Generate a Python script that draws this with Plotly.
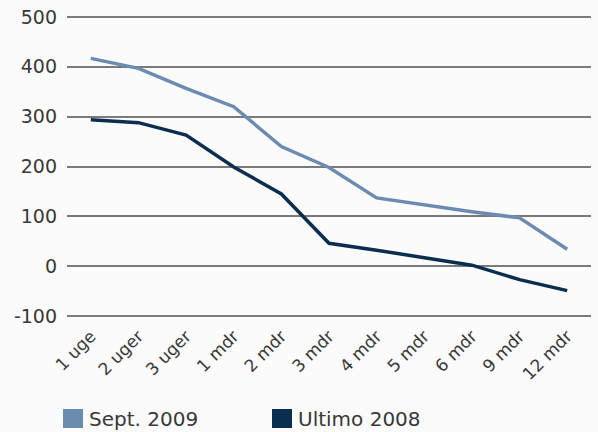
import plotly.graph_objects as go

categories = ["1 uge", "2 uger", "3 uger", "1 mdr", "2 mdr", "3 mdr", "4 mdr", "5 mdr", "6 mdr", "9 mdr", "12 mdr"]
sept_2009 = [417, 397, 357, 320, 240, 198, 137, 123, 109, 97, 34]
ultimo_2008 = [294, 288, 263, 199, 145, 46, 32, 17, 2, -27, -49]
y_ticks = [-100, 0, 100, 200, 300, 400, 500]
y_tick_labels = ["-100", "0", "100", "200", "300", "400", "500"]
series_names = ["Sept. 2009", "Ultimo 2008"]

c_sept = "#6b8bb1"
c_ult = "#0b2e50"
font_family = "DejaVu Sans"
W, H = 598, 432
ml, mr, mt, mb = 67, 7, 15, 114

fig = go.Figure()
fig.add_trace(go.Scatter(x=categories, y=sept_2009, mode="lines", line=dict(color=c_sept, width=3.5),
                         showlegend=False, name=series_names[0]))
fig.add_trace(go.Scatter(x=categories, y=ultimo_2008, mode="lines", line=dict(color=c_ult, width=3.5),
                         showlegend=False, name=series_names[1]))

# legend drawn as squares + text (paper coordinates)
pw, ph = W - ml - mr, H - mt - mb
def px_x(p):
    return (p - ml) / pw
def px_y(p):
    return (H - mb - p) / ph

for name, col, sx in [(series_names[0], c_sept, 63), (series_names[1], c_ult, 272)]:
    fig.add_shape(type="rect", xref="paper", yref="paper",
                  x0=px_x(sx), x1=px_x(sx + 20), y0=px_y(428), y1=px_y(409),
                  fillcolor=col, line=dict(width=0))
    fig.add_annotation(xref="paper", yref="paper", x=px_x(sx + 24), y=px_y(419),
                       text=name, showarrow=False, xanchor="left", yanchor="middle",
                       font=dict(family=font_family, size=20, color="#383838"))

fig.update_layout(
    width=W, height=H,
    margin=dict(l=ml, r=mr, t=mt, b=mb),
    paper_bgcolor="#fbfbfb", plot_bgcolor="#fbfbfb",
    font=dict(family=font_family, size=19, color="#383838"),
    showlegend=False,
    xaxis=dict(type="category", range=[-0.5, 10.5], showgrid=False, zeroline=False, showline=False,
               ticks="", tickangle=-45, tickfont=dict(size=17), ticklabelstandoff=4),
    yaxis=dict(range=[-104, 504], tickvals=y_ticks, ticktext=y_tick_labels, showgrid=True,
               gridcolor="#7a7a7a", gridwidth=2,
               zeroline=False, showline=False, ticks="", ticklabelstandoff=9),
)

fig.write_html("out.html", config={"displayModeBar": False},
               post_script="document.body.style.margin='0';document.body.style.background='#fbfbfb';")
